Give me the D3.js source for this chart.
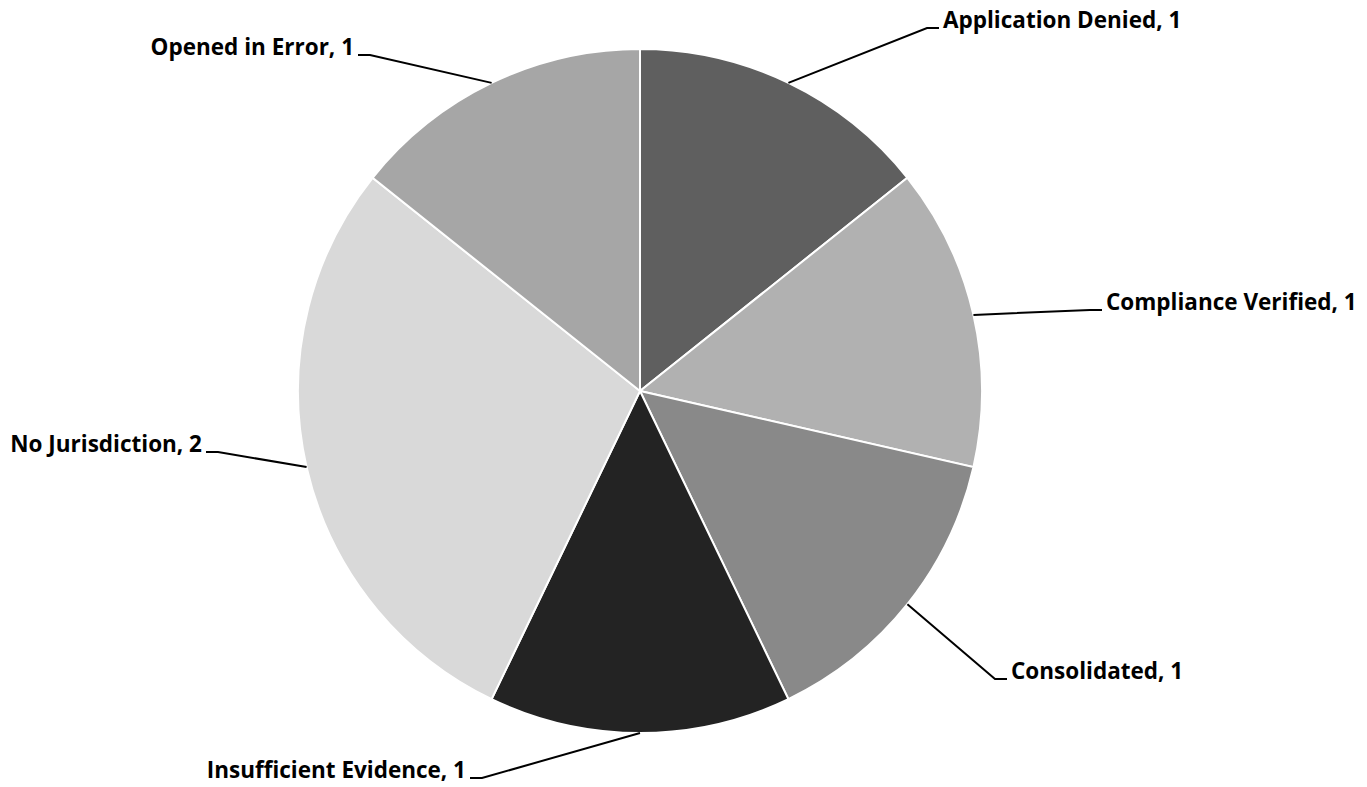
<!DOCTYPE html>
<html lang="en">
<head>
<meta charset="UTF-8">
<title>Case outcomes pie</title>
<style>
    body { margin: 0; background: #fff; }
    .lbl { font-family: "Open Sans", sans-serif; font-weight: bold; font-size: 22.5px; fill: #000; }
    .leader { stroke: #000; stroke-width: 2px; fill: none; }
</style>
<script src="https://cdn.jsdelivr.net/npm/d3@7/dist/d3.min.js"></script>
</head>
<body>
<div id="container"></div>
<script>
    const categories = ["Application Denied", "Compliance Verified", "Consolidated",
                        "Insufficient Evidence", "No Jurisdiction", "Opened in Error"];
    const values = [1, 1, 1, 1, 2, 1];
    const colors = ["#5f5f5f", "#b1b1b1", "#898989", "#232323", "#d9d9d9", "#a6a6a6"];

    // where each leader line bends, and which side the text sits on
    const elbows = [[927, 28, 1], [1090, 310, 1], [995, 679, 1],
                    [482, 778, -1], [218, 452, -1], [370, 55, -1]];

    const width = 1367, height = 787;
    const cx = 640, cy = 391, radius = 342;

    const svg = d3.select("#container").append("svg")
        .attr("width", width).attr("height", height);

    const data = categories.map((c, i) => ({ name: c, value: values[i], color: colors[i], idx: i }));

    const pie = d3.pie().value(d => d.value).sort(null);
    const arc = d3.arc().innerRadius(0).outerRadius(radius);
    const edgeArc = d3.arc().innerRadius(radius).outerRadius(radius);
    const arcs = pie(data);

    const g = svg.append("g").attr("transform", `translate(${cx},${cy})`);

    g.selectAll("path.slice")
        .data(arcs)
        .enter()
        .append("path")
        .attr("class", "slice")
        .attr("d", arc)
        .attr("fill", d => d.data.color)
        .attr("stroke", "#fff")
        .attr("stroke-width", 2);

    // leader lines
    g.selectAll("path.leader")
        .data(arcs)
        .enter()
        .append("path")
        .attr("class", "leader")
        .attr("d", d => {
            const p = edgeArc.centroid(d);
            const e = elbows[d.data.idx];
            const ex = e[0] - cx, ey = e[1] - cy;
            return d3.line()([p, [ex, ey], [ex + 12 * e[2], ey]]);
        });

    g.selectAll("text.lbl")
        .data(arcs)
        .enter()
        .append("text")
        .attr("class", "lbl")
        .attr("x", d => {
            const e = elbows[d.data.idx];
            return e[0] - cx + 16 * e[2];
        })
        .attr("y", d => elbows[d.data.idx][1] - cy)
        .attr("text-anchor", d => elbows[d.data.idx][2] > 0 ? "start" : "end")
        .text(d => `${d.data.name}, ${d.data.value}`);
</script>
</body>
</html>
